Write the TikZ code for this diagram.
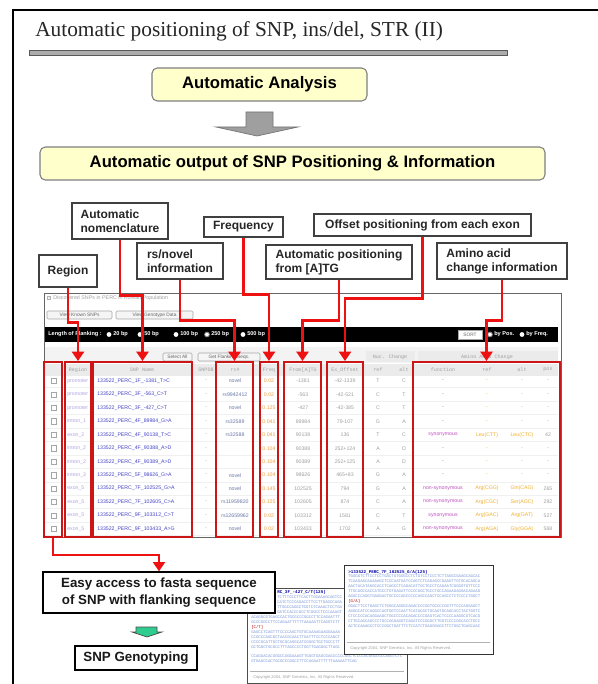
\documentclass[tikz,border=0pt]{standalone}
\usepackage{fontspec}
\setmainfont{Liberation Serif}
\newfontfamily\arial{Liberation Sans}
\newfontfamily\mono{Liberation Mono}
\usetikzlibrary{arrows.meta}

\definecolor{boxyellow}{HTML}{FFFFCC}
\definecolor{boxedge}{HTML}{7F7F7F}
\definecolor{lnred}{HTML}{EE1111}
\definecolor{colred}{HTML}{CC1515}
\definecolor{snpblue}{HTML}{4545C8}
\definecolor{regpurple}{HTML}{B4A4E0}
\definecolor{freqorange}{HTML}{F0A040}
\definecolor{fnpurple}{HTML}{C050C0}
\definecolor{aaorange}{HTML}{F0B030}
\definecolor{cellgray}{HTML}{EBEBEB}
\definecolor{bandgray}{HTML}{F3F3F3}
\definecolor{txtgray}{HTML}{A0A0A0}
\definecolor{rsblue}{HTML}{6A78A8}
\definecolor{seqblue}{HTML}{7A98D8}
\definecolor{arrowgreen}{HTML}{2ECC8E}

\newcommand\tabfont{\arial\fontsize{3.9}{4.5}\selectfont}
\newcommand\hdfont{\mono\fontsize{3.8}{4.5}\selectfont}
\newcommand\seqfont{\mono\fontsize{3}{3.75}\selectfont}

\tikzset{
  % rectangle node given by its corners in pixel units (x1,y1,x2,y2)
  pxrect/.style n args={4}{rectangle, inner sep=0pt,
    minimum width={(#3-#1)*0.75pt}, minimum height={(#4-#2)*0.75pt},
    at={({(#1+#3)/2},{(#2+#4)/2})}},
  yellowbox/.style={draw=boxedge, fill=boxyellow, rounded corners=4pt, line width=0.8pt,
    font=\arial\bfseries\fontsize{12.5}{15}\selectfont},
  lblbox/.style={draw=black!75, fill=white, line width=0.8pt, align=left,
    text=black!85, font=\arial\bfseries\fontsize{9}{10.5}\selectfont},
  stepbox/.style={draw=black, fill=white, line width=1pt, align=center,
    text=black!90, font=\arial\bfseries\fontsize{10}{12.5}\selectfont},
  colbox/.style={draw=colred, line width=1.5pt},
  redlink/.style={draw=lnred, line width=1.9pt, -{Triangle[width=9pt,length=7pt]}},
  cell/.style={inner sep=0pt, font=\tabfont},
  hcell/.style={inner sep=0pt, font=\hdfont, text=txtgray},
  btn/.style={draw=gray!70, fill=gray!8, rounded corners=1pt, line width=0.4pt,
    font=\arial\fontsize{3.6}{4}\selectfont, text=black!60},
  radio/.style={circle, fill=white, inner sep=0pt, minimum size=3.6pt},
  cbox/.style={draw=gray!70, fill=white, line width=0.4pt, inner sep=0pt, minimum size=4pt},
  card/.style={draw=black!70, fill=white, line width=0.7pt},
  seqtext/.style={anchor=north west, inner sep=0pt, align=left, font=\seqfont, text=seqblue},
  seqhead/.style={anchor=west, inner sep=0pt, font=\mono\bfseries\fontsize{3.2}{4}\selectfont, text=blue!65!black},
  copyline/.style={anchor=west, inner sep=0pt, font=\arial\fontsize{3}{4}\selectfont, text=txtgray},
}

\begin{document}
\begin{tikzpicture}[x=0.75pt,y=-0.75pt]
\useasboundingbox (0,0) rectangle (597,684);
\fill[white] (0,0) rectangle (597,684);

% page frame
\draw[line width=0.9pt] (13,700) -- (13,10) -- (610,10);

% title and rule
\node[anchor=base west, inner sep=0pt, font=\fontsize{16}{19}\selectfont, text=black!85]
  (title) at (35,37) {Automatic positioning of SNP, ins/del, STR (II)};
\draw[fill=gray!65, draw=black!65, line width=0.6pt] (29,50) rectangle (507,55);

% analysis flow
\node[yellowbox, pxrect={152}{68}{367}{101}] (analysis) {Automatic Analysis};
\draw[fill=gray!75, draw=black!55, line width=0.5pt]
  (246,112) -- (273,112) -- (273,127) -- (298,127) -- (257,136) -- (216,127) -- (246,127) -- cycle;
\node[yellowbox, pxrect={40}{147}{545}{180}] (output) {Automatic output of SNP Positioning \& Information};

% ---------- result panel ----------
\draw[draw=black!60, line width=0.6pt, fill=white] (44,293) rectangle (561,537);
\draw[draw=gray!60, fill=gray!10, line width=0.3pt] (47,296) rectangle (50,299);
\node[anchor=west, inner sep=0pt, font=\arial\fontsize{4}{5}\selectfont, text=txtgray]
  (ptitle) at (53,298) {Discovered SNPs in PERC in Korean Population};
\node[btn, pxrect={47}{311}{112}{319}] (bknown) {View Known SNPs};
\node[btn, pxrect={116}{311}{193}{319}] (bgeno) {View Genotype Data};

% flanking length bar
\fill[black] (45,327) rectangle (558,342);
\begin{scope}[every node/.style={inner sep=0pt, text=white, font=\arial\bfseries\fontsize{4.2}{5}\selectfont}]
  \node[anchor=west] (flank) at (48,334.5) {Length of Flanking :};
  \node[radio] (f20) at (109,334.5) {};   \node[anchor=west] (t20) at (113,334.5) {20 bp};
  \node[radio] (f50) at (140,334.5) {};   \node[anchor=west] (t50) at (144,334.5) {50 bp};
  \node[radio] (f100) at (176,334.5) {};  \node[anchor=west] (t100) at (180,334.5) {100 bp};
  \node[radio, draw=gray, line width=0.6pt] (f250) at (207,334.5) {}; \node[anchor=west] (t250) at (211,334.5) {250 bp};
  \node[radio] (f500) at (243,334.5) {};  \node[anchor=west] (t500) at (247,334.5) {500 bp};
  \node[radio, draw=gray, line width=0.6pt] (spos) at (490,334.5) {}; \node[anchor=west] (tpos) at (494,334.5) {by Pos.};
  \node[radio] (sfreq) at (522,334.5) {}; \node[anchor=west] (tfreq) at (526,334.5) {by Freq.};
\end{scope}
\node[btn, fill=white, rounded corners=0pt, pxrect={458}{330}{482}{339}] (bsort) {SORT};

% header bands
\fill[bandgray] (45,347) rectangle (558,363);
\node[btn, pxrect={163}{353}{192}{361}] (bsel) {Select All};
\node[btn, pxrect={198}{353}{260}{361}] (bget) {Get Flanking Seqs.};
\fill[cellgray] (366,351) rectangle (415,362);
\fill[cellgray] (418,351) rectangle (558,362);
\fill[cellgray] (45,364) rectangle (558,376);
\node[hcell] (hnuc) at (390,357) {Nuc. Change};
\node[hcell] (hamino) at (487,357) {Amino Acid Change};
\node[hcell] (hreg) at (78,370) {Region};
\node[hcell] (hname) at (142,370) {SNP Name};
\node[hcell] (hdb) at (206,370) {SNPDB};
\node[hcell] (hrs) at (235,370) {rs\#};
\node[hcell] (hfq) at (269,370) {Freq};
\node[hcell] (hatg) at (303,370) {From[A]TG};
\node[hcell] (hoff) at (345,370) {Ex\_Offset};
\node[hcell] (hnr) at (378,370) {ref};
\node[hcell] (hna) at (404,370) {alt};
\node[hcell] (hfn) at (443,370) {function};
\node[hcell] (har) at (487,370) {ref};
\node[hcell] (haa) at (522,370) {alt};
\node[hcell] (hps) at (548,370) {pos};

% table rows
\foreach \reg/\nm/\rs/\fq/\atg/\off/\nr/\na/\fn/\ar/\aa/\ps [count=\i from 0] in {
 promoter/133522\_PERC\_1F\_-1381\_T>C/novel/0.02/-1381/-42-1339/T/C/-/-/-/-,
 promoter/133522\_PERC\_3F\_-563\_C>T/rs9942412/0.02/-563/-42-521/C/T/-/-/-/-,
 promoter/133522\_PERC\_3F\_-427\_C>T/novel/0.125/-427/-42-385/C/T/-/-/-/-,
 intron\_1/133522\_PERC\_4F\_89984\_G>A/rs32589/0.041/89984/79-107/G/A/-/-/-/-,
 exon\_2/133522\_PERC\_4F\_90138\_T>C/rs32588/0.041/90138/136/T/C/synonymous/Leu(CTT)/Leu(CTC)/42,
 intron\_2/133522\_PERC\_4F\_90388\_A>D/{}/0.104/90388/252+124/A/D/-/-/-/-,
 intron\_2/133522\_PERC\_4F\_90389\_A>D/{}/0.104/90389/252+125/A/D/-/-/-/-,
 intron\_3/133522\_PERC\_5F\_98626\_G>A/novel/0.104/98626/465+83/G/A/-/-/-/-,
 exon\_5/133522\_PERC\_7F\_102525\_G>A/novel/0.145/102525/794/G/A/non-synonymous/Arg(CGG)/Gln(CAG)/265,
 exon\_5/133522\_PERC\_7F\_102605\_C>A/rs11959820/0.125/102605/874/C/A/non-synonymous/Arg(CGC)/Ser(AGC)/292,
 exon\_5/133522\_PERC\_9F\_103312\_C>T/rs12659962/0.02/103312/1581/C/T/synonymous/Arg(GAC)/Arg(GAT)/527,
 exon\_5/133522\_PERC\_9F\_103433\_A>G/novel/0.02/103433/1702/A/G/non-synonymous/Arg(AGA)/Gly(GGA)/568}{
  \pgfmathsetmacro\yy{381+13.45*\i}
  \draw[gray!12, line width=0.4pt] (45,\yy+6.7) -- (558,\yy+6.7);
  \node[cbox] (chk\i) at (54,\yy) {};
  \node[cell, anchor=west, text=regpurple] (reg\i) at (67,\yy) {\reg};
  \node[cell, anchor=west, text=snpblue] (nm\i) at (97,\yy) {\nm};
  \node[cell, text=txtgray] (db\i) at (206,\yy) {-};
  \node[cell, text=rsblue] (rs\i) at (235,\yy) {\rs};
  \node[cell, text=freqorange] (fq\i) at (269,\yy) {\fq};
  \node[cell, text=txtgray] (atg\i) at (303,\yy) {\atg};
  \node[cell, text=txtgray] (off\i) at (345,\yy) {\off};
  \node[cell, text=txtgray] (nr\i) at (378,\yy) {\nr};
  \node[cell, text=txtgray] (na\i) at (404,\yy) {\na};
  \node[cell, text=fnpurple] (fn\i) at (443,\yy) {\fn};
  \node[cell, text=aaorange] (ar\i) at (487,\yy) {\ar};
  \node[cell, text=aaorange] (aa\i) at (522,\yy) {\aa};
  \node[cell, text=txtgray] (ps\i) at (548,\yy) {\ps};
}

% highlighted columns
\node[colbox, pxrect={44}{362}{62}{537}] (colChk) {};
\node[colbox, pxrect={65}{362}{91}{537}] (colReg) {};
\node[colbox, pxrect={93}{362}{192}{537}] (colName) {};
\node[colbox, pxrect={216}{362}{253}{537}] (colRs) {};
\node[colbox, pxrect={260}{362}{278}{537}] (colFreq) {};
\node[colbox, pxrect={284}{362}{321}{537}] (colAtg) {};
\node[colbox, pxrect={327}{362}{363}{537}] (colOff) {};
\node[colbox, pxrect={413}{362}{560}{537}] (colAa) {};

% callout labels
\node[lblbox, pxrect={72}{203}{168}{239}] (lblNom) {Automatic\\nomenclature};
\node[lblbox, pxrect={204}{217}{283}{237}] (lblFreq) {Frequency};
\node[lblbox, pxrect={314}{214}{531}{236}] (lblOff) {Offset positioning from each exon};
\node[lblbox, pxrect={39}{255}{97}{287}] (lblReg) {Region};
\node[lblbox, pxrect={137}{243}{223}{279}] (lblRs) {rs/novel\\information};
\node[lblbox, pxrect={266}{245}{412}{279}] (lblAtg) {Automatic positioning\\from [A]TG};
\node[lblbox, pxrect={437}{243}{567}{279}] (lblAa) {Amino acid\\change information};

% callout connectors
\draw[redlink] (lblReg.south) -- ++(0,35) -| (colReg.north);
\draw[redlink] (lblNom.south) -- ++(0,56) -| (colName.north);
\draw[redlink] (lblRs.south) -- ++(0,41) -| (colRs.north);
\draw[redlink] (lblFreq.south) -- ++(0,57) -| (colFreq.north);
\draw[redlink] (lblAtg.south) -- ++(0,41) -| (colAtg.north);
\draw[redlink] (lblOff.south) -- ++(0,62) -| (colOff.north);
\draw[redlink] (lblAa.south) -- ++(0,41) -| (colAa.north);

% ---------- fasta sequence windows ----------
% back window: its upper lines are hidden by the front window and the step box
\node[card, pxrect={247}{588}{407}{683}] (card1) {};
\node[seqhead] (head1) at (277,592) {RC\_3F\_-427\_C/T(125)};
\node[seqtext] (seq1a) at (277,595.5) {
TCTTTCCCTTCACTTGGAAAGCAGTCC\\
CATCTCCCAGACCTTCCTTGAGCCAGA\\
TTGGCCAGGCTGGTCTCAAACTCCTGA\\
GATCCACCCGCCTCGGCCTCCCAAAGT};
\node[seqtext] (seq1b) at (251,615.5) {
ACAGGCGTGAGCCACTGCGCCCGGCCTTCCAGAATTT\\
GCCCGGCCTTCCAGAATTTTTTAAAAATTCAGGTCTT\\
{\color{red!75!black}[C/T]}\\
GAGCCTCAGTTTCCCCAGCTGTGCAAAAGAAGGAAAA\\
CCGCCCAGCGCTAACGCAACTTGATTTCCTCCCAGCT\\
CCCCGCATTGCTGCGCAGGCATCGGGCTGCTGCCCTT\\
GCTGGCTGCGCCTTTAGCCCCTGGTTGAGGGCTTAGC};
\node[seqtext] (seq1c) at (251,654.5) {
CCAGGACACGGGCCAGGAAAGTTGGGTGAGCGAGCCCCCGGCTCCCCGCGGGCGCCAGGTCTC\\
GTGAGCCACTGCGCCCGGCCTTCCAGAATTTTTTAAAAATTCAG};
\draw[gray!60, line width=0.5pt] (250,671) -- (404,671);
\node[copyline] (copy1) at (253,677) {Copyright 2004, SNP Genetics, Inc. All Rights Reserved.};

% front window
\node[card, draw=black!80, pxrect={344}{565}{493}{654}] (card2) {};
\node[seqhead] (head2) at (348,572) {>133522\_PERC\_7F\_102525\_G/A(125)};
\node[seqtext] (seq2) at (348,575) {
TGGGGTCTTCCTCCTGACTGTGGGCCTCTGTCCTCCCTCTTAGGCGAAGCAGCAC\\
TCAAGAACAAAAAGCTCCCAATGATCCAGTCTCAGAGCCGAAGTTGTGCACAGCA\\
AACTACATAGGCACCTCAGCCTCAGACATTGCTGCCTCAGAATCGGGGTGTTCCC\\
TTGCAGCCACCATGCCTGTGAGATTCCCCGGCTGCCTGCCAGAAGAGGACAGAAG\\
AGGCCCAGGTGAGGACTGCCCCAGCCCCCAGCCAGCTCCAGCCTCTCCCCTGGCT\\
{\color{red!75!black}[G/A]}\\
GGACTTCCTGAGCTCTGGGCAGGGCAGACCCCGGTGCCCCGGTTTCCCAGGAGCT\\
AGGGCATCCAGGCCAGTGGTCCAATTCATACGCTGCAGTGCAGCACCTACTGGTC\\
CTCCCCCACAGGAAGCTGGCCCCACAGACCCCGAGTCACTCCCCAAGGCGTCACG\\
CTTGCAGCAGCCCTGCCAGGAGGTCAGATCCCGGGCTTGGTCCCCGGCACCTGCC\\
ACTCCAAAGCCTCCCGGCTGATTTCTCCATCTGAGGGAGCTTCTGGCTGAGCAAC};
\draw[gray!60, line width=0.5pt] (347,642) -- (490,642);
\node[copyline] (copy2) at (350,648) {Copyright 2004, SNP Genetics, Inc. All Rights Reserved.};

% ---------- downstream steps ----------
\node[stepbox, pxrect={43}{572}{275}{613}] (easy) {Easy access to fasta sequence\\of SNP with flanking sequence};
\draw[redlink] (colChk.south) -- ++(0,17) -| (easy.north);
\draw[fill=arrowgreen, draw=black!70, line width=0.5pt]
  (136,627) -- (157,627) -- (157,632) -- (162,632) -- (147,637) -- (132,632) -- (136,632) -- cycle;
\node[stepbox, pxrect={75}{646}{197}{670}] (geno) {SNP Genotyping};
\end{tikzpicture}
\end{document}
